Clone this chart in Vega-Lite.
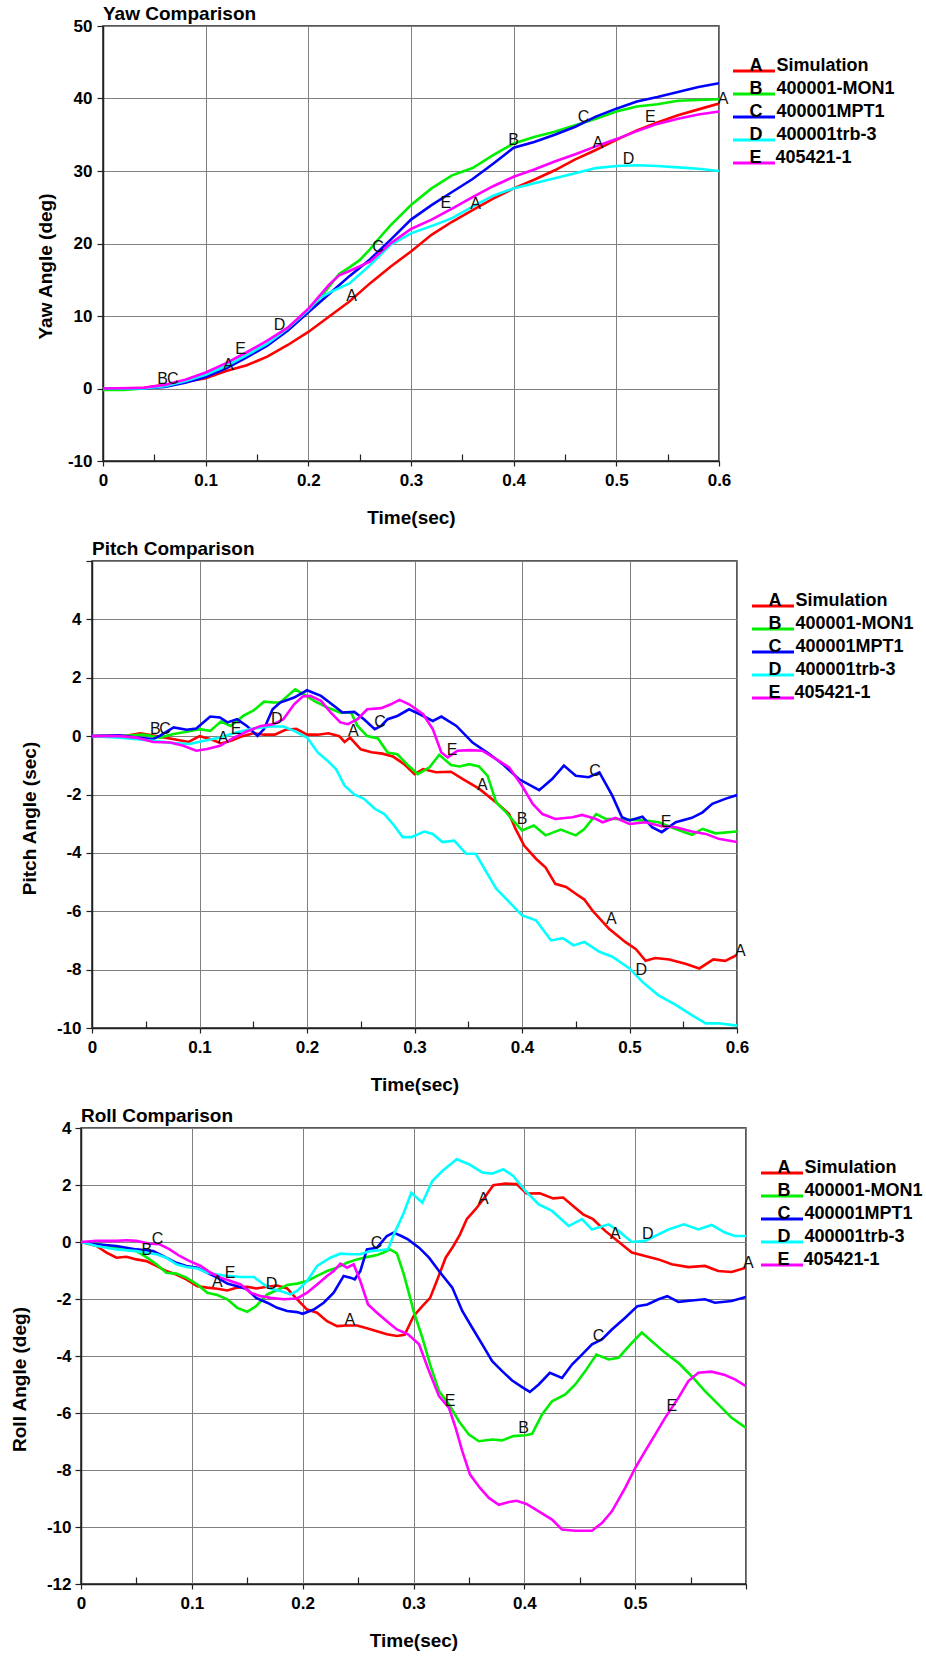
{
  "$schema": "https://vega.github.io/schema/vega-lite/v6.json",
  "background": "white",
  "padding": {"left": 10, "top": 4, "right": 0, "bottom": 0},
  "config": {
    "font": "Liberation Sans",
    "view": {"stroke": "#222222", "strokeWidth": 1.5},
    "title": {"fontSize": 19, "fontWeight": "bold", "font": "Liberation Sans", "anchor": "start", "frame": "group", "offset": -7, "color": "#000000"},
    "axis": {
      "labelFont": "Liberation Sans", "labelFontSize": 17, "labelFontWeight": "bold", "labelColor": "#000000",
      "titleFont": "Liberation Sans", "titleFontSize": 19, "titleFontWeight": "bold", "titleColor": "#000000",
      "gridColor": "#808080", "gridWidth": 1, "domainColor": "#222222", "domainWidth": 1.5,
      "tickColor": "#222222", "tickWidth": 1.2, "labelOverlap": false, "labelFlush": false, "labelBound": false
    },
    "legend": {
      "orient": "none", "title": null,
      "symbolType": "M-3,0H3", "symbolSize": 196, "symbolStrokeWidth": 3,
      "labelFont": "Liberation Sans", "labelFontSize": 18, "labelFontWeight": "bold", "labelColor": "#000000",
      "labelOffset": -13.5, "labelBaseline": "alphabetic", "rowPadding": 3, "labelLimit": 300
    },
    "text": {"font": "Liberation Sans", "fontSize": 16, "color": "#111111"}
  },
  "spacing": 11,
  "resolve": {"scale": {"color": "independent"}, "legend": {"color": "independent"}},
  "datasets": {
    "yaw": [
      {"s":"Simulation","t":0,"v":0},{"s":"Simulation","t":0.02,"v":0},{"s":"Simulation","t":0.04,"v":0.1},{"s":"Simulation","t":0.06,"v":0.5},{"s":"Simulation","t":0.08,"v":0.9},{"s":"Simulation","t":0.1,"v":1.4},{"s":"Simulation","t":0.12,"v":2.4},{"s":"Simulation","t":0.14,"v":3.2},{"s":"Simulation","t":0.16,"v":4.4},{"s":"Simulation","t":0.18,"v":6.0},{"s":"Simulation","t":0.2,"v":7.8},{"s":"Simulation","t":0.22,"v":9.9},{"s":"Simulation","t":0.24,"v":12.0},{"s":"Simulation","t":0.26,"v":14.5},{"s":"Simulation","t":0.28,"v":16.8},{"s":"Simulation","t":0.3,"v":18.9},{"s":"Simulation","t":0.32,"v":21.2},{"s":"Simulation","t":0.34,"v":23.0},{"s":"Simulation","t":0.36,"v":24.6},{"s":"Simulation","t":0.38,"v":26.2},{"s":"Simulation","t":0.4,"v":27.6},{"s":"Simulation","t":0.42,"v":28.8},{"s":"Simulation","t":0.44,"v":30.1},{"s":"Simulation","t":0.46,"v":31.6},{"s":"Simulation","t":0.48,"v":32.9},{"s":"Simulation","t":0.5,"v":34.3},{"s":"Simulation","t":0.52,"v":35.6},{"s":"Simulation","t":0.54,"v":36.7},{"s":"Simulation","t":0.56,"v":37.7},{"s":"Simulation","t":0.58,"v":38.5},{"s":"Simulation","t":0.6,"v":39.3},
      {"s":"400001-MON1","t":0,"v":-0.2},{"s":"400001-MON1","t":0.02,"v":-0.2},{"s":"400001-MON1","t":0.04,"v":0},{"s":"400001-MON1","t":0.06,"v":0.4},{"s":"400001-MON1","t":0.08,"v":1.0},{"s":"400001-MON1","t":0.1,"v":1.9},{"s":"400001-MON1","t":0.12,"v":3.0},{"s":"400001-MON1","t":0.14,"v":4.4},{"s":"400001-MON1","t":0.16,"v":6.0},{"s":"400001-MON1","t":0.18,"v":8.0},{"s":"400001-MON1","t":0.2,"v":10.6},{"s":"400001-MON1","t":0.21,"v":12.3},{"s":"400001-MON1","t":0.22,"v":14.0},{"s":"400001-MON1","t":0.23,"v":15.8},{"s":"400001-MON1","t":0.24,"v":16.7},{"s":"400001-MON1","t":0.25,"v":17.7},{"s":"400001-MON1","t":0.26,"v":19.2},{"s":"400001-MON1","t":0.27,"v":20.9},{"s":"400001-MON1","t":0.28,"v":22.5},{"s":"400001-MON1","t":0.3,"v":25.3},{"s":"400001-MON1","t":0.32,"v":27.6},{"s":"400001-MON1","t":0.34,"v":29.4},{"s":"400001-MON1","t":0.36,"v":30.4},{"s":"400001-MON1","t":0.38,"v":32.2},{"s":"400001-MON1","t":0.4,"v":33.8},{"s":"400001-MON1","t":0.42,"v":34.7},{"s":"400001-MON1","t":0.44,"v":35.4},{"s":"400001-MON1","t":0.46,"v":36.3},{"s":"400001-MON1","t":0.48,"v":37.2},{"s":"400001-MON1","t":0.5,"v":38.2},{"s":"400001-MON1","t":0.52,"v":38.9},{"s":"400001-MON1","t":0.54,"v":39.2},{"s":"400001-MON1","t":0.56,"v":39.7},{"s":"400001-MON1","t":0.58,"v":39.8},{"s":"400001-MON1","t":0.6,"v":39.9},
      {"s":"400001MPT1","t":0,"v":0},{"s":"400001MPT1","t":0.04,"v":0},{"s":"400001MPT1","t":0.06,"v":0.2},{"s":"400001MPT1","t":0.08,"v":0.8},{"s":"400001MPT1","t":0.1,"v":1.6},{"s":"400001MPT1","t":0.12,"v":2.8},{"s":"400001MPT1","t":0.14,"v":4.3},{"s":"400001MPT1","t":0.16,"v":5.9},{"s":"400001MPT1","t":0.18,"v":8.0},{"s":"400001MPT1","t":0.2,"v":10.5},{"s":"400001MPT1","t":0.22,"v":13.0},{"s":"400001MPT1","t":0.24,"v":15.5},{"s":"400001MPT1","t":0.26,"v":17.8},{"s":"400001MPT1","t":0.28,"v":20.5},{"s":"400001MPT1","t":0.3,"v":23.3},{"s":"400001MPT1","t":0.32,"v":25.3},{"s":"400001MPT1","t":0.34,"v":27.1},{"s":"400001MPT1","t":0.36,"v":28.9},{"s":"400001MPT1","t":0.38,"v":31.0},{"s":"400001MPT1","t":0.4,"v":33.2},{"s":"400001MPT1","t":0.42,"v":34.0},{"s":"400001MPT1","t":0.44,"v":35.0},{"s":"400001MPT1","t":0.46,"v":36.1},{"s":"400001MPT1","t":0.48,"v":37.5},{"s":"400001MPT1","t":0.5,"v":38.6},{"s":"400001MPT1","t":0.52,"v":39.6},{"s":"400001MPT1","t":0.54,"v":40.2},{"s":"400001MPT1","t":0.56,"v":40.9},{"s":"400001MPT1","t":0.58,"v":41.6},{"s":"400001MPT1","t":0.6,"v":42.1},
      {"s":"400001trb-3","t":0,"v":0},{"s":"400001trb-3","t":0.04,"v":0},{"s":"400001trb-3","t":0.06,"v":0.3},{"s":"400001trb-3","t":0.08,"v":1.0},{"s":"400001trb-3","t":0.1,"v":1.9},{"s":"400001trb-3","t":0.12,"v":3.1},{"s":"400001trb-3","t":0.14,"v":4.6},{"s":"400001trb-3","t":0.16,"v":6.2},{"s":"400001trb-3","t":0.18,"v":8.3},{"s":"400001trb-3","t":0.2,"v":10.8},{"s":"400001trb-3","t":0.21,"v":12.4},{"s":"400001trb-3","t":0.22,"v":13.2},{"s":"400001trb-3","t":0.24,"v":14.5},{"s":"400001trb-3","t":0.26,"v":17.0},{"s":"400001trb-3","t":0.28,"v":19.8},{"s":"400001trb-3","t":0.3,"v":21.4},{"s":"400001trb-3","t":0.32,"v":22.4},{"s":"400001trb-3","t":0.34,"v":23.5},{"s":"400001trb-3","t":0.36,"v":25.1},{"s":"400001trb-3","t":0.38,"v":26.6},{"s":"400001trb-3","t":0.4,"v":27.6},{"s":"400001trb-3","t":0.42,"v":28.3},{"s":"400001trb-3","t":0.44,"v":29.0},{"s":"400001trb-3","t":0.46,"v":29.7},{"s":"400001trb-3","t":0.48,"v":30.4},{"s":"400001trb-3","t":0.5,"v":30.7},{"s":"400001trb-3","t":0.52,"v":30.8},{"s":"400001trb-3","t":0.54,"v":30.7},{"s":"400001trb-3","t":0.56,"v":30.5},{"s":"400001trb-3","t":0.58,"v":30.3},{"s":"400001trb-3","t":0.6,"v":30.0},
      {"s":"405421-1","t":0,"v":0},{"s":"405421-1","t":0.04,"v":0.1},{"s":"405421-1","t":0.06,"v":0.5},{"s":"405421-1","t":0.08,"v":1.2},{"s":"405421-1","t":0.1,"v":2.2},{"s":"405421-1","t":0.12,"v":3.5},{"s":"405421-1","t":0.14,"v":5.0},{"s":"405421-1","t":0.16,"v":6.6},{"s":"405421-1","t":0.18,"v":8.4},{"s":"405421-1","t":0.2,"v":11.0},{"s":"405421-1","t":0.22,"v":14.3},{"s":"405421-1","t":0.23,"v":15.6},{"s":"405421-1","t":0.24,"v":16.2},{"s":"405421-1","t":0.26,"v":17.5},{"s":"405421-1","t":0.28,"v":20.0},{"s":"405421-1","t":0.3,"v":22.0},{"s":"405421-1","t":0.32,"v":23.3},{"s":"405421-1","t":0.34,"v":24.8},{"s":"405421-1","t":0.36,"v":26.4},{"s":"405421-1","t":0.38,"v":27.9},{"s":"405421-1","t":0.4,"v":29.2},{"s":"405421-1","t":0.42,"v":30.2},{"s":"405421-1","t":0.44,"v":31.3},{"s":"405421-1","t":0.46,"v":32.3},{"s":"405421-1","t":0.48,"v":33.4},{"s":"405421-1","t":0.5,"v":34.4},{"s":"405421-1","t":0.52,"v":35.5},{"s":"405421-1","t":0.54,"v":36.5},{"s":"405421-1","t":0.56,"v":37.2},{"s":"405421-1","t":0.58,"v":37.8},{"s":"405421-1","t":0.6,"v":38.2}
    ],
    "yawLab": [
      {"k":"B","t":0.058,"v":1.3},{"k":"C","t":0.068,"v":1.3},{"k":"A","t":0.122,"v":3.2},{"k":"E","t":0.134,"v":5.5},{"k":"D","t":0.172,"v":8.7},{"k":"A","t":0.242,"v":12.7},{"k":"C","t":0.268,"v":19.5},{"k":"E","t":0.334,"v":25.6},{"k":"A","t":0.363,"v":25.5},{"k":"B","t":0.4,"v":34.3},{"k":"C","t":0.468,"v":37.5},{"k":"A","t":0.482,"v":33.8},{"k":"D","t":0.512,"v":31.6},{"k":"E","t":0.533,"v":37.5},{"k":"A","t":0.604,"v":39.9}
    ],
    "pitch": [
      {"s":"Simulation","t":0,"v":0},{"s":"Simulation","t":0.03,"v":0},{"s":"Simulation","t":0.045,"v":0.1},{"s":"Simulation","t":0.06,"v":0},{"s":"Simulation","t":0.075,"v":-0.1},{"s":"Simulation","t":0.09,"v":-0.2},{"s":"Simulation","t":0.1,"v":0},{"s":"Simulation","t":0.11,"v":-0.1},{"s":"Simulation","t":0.12,"v":-0.25},{"s":"Simulation","t":0.13,"v":-0.15},{"s":"Simulation","t":0.14,"v":0},{"s":"Simulation","t":0.15,"v":0.1},{"s":"Simulation","t":0.16,"v":0.05},{"s":"Simulation","t":0.17,"v":0.05},{"s":"Simulation","t":0.18,"v":0.22},{"s":"Simulation","t":0.19,"v":0.25},{"s":"Simulation","t":0.2,"v":0.05},{"s":"Simulation","t":0.21,"v":0.05},{"s":"Simulation","t":0.22,"v":0.1},{"s":"Simulation","t":0.23,"v":0},{"s":"Simulation","t":0.235,"v":-0.2},{"s":"Simulation","t":0.24,"v":-0.05},{"s":"Simulation","t":0.25,"v":-0.45},{"s":"Simulation","t":0.26,"v":-0.55},{"s":"Simulation","t":0.27,"v":-0.6},{"s":"Simulation","t":0.28,"v":-0.7},{"s":"Simulation","t":0.29,"v":-0.95},{"s":"Simulation","t":0.3,"v":-1.3},{"s":"Simulation","t":0.308,"v":-1.13},{"s":"Simulation","t":0.32,"v":-1.24},{"s":"Simulation","t":0.334,"v":-1.22},{"s":"Simulation","t":0.345,"v":-1.47},{"s":"Simulation","t":0.36,"v":-1.8},{"s":"Simulation","t":0.376,"v":-2.27},{"s":"Simulation","t":0.388,"v":-2.67},{"s":"Simulation","t":0.394,"v":-3.18},{"s":"Simulation","t":0.402,"v":-3.75},{"s":"Simulation","t":0.413,"v":-4.2},{"s":"Simulation","t":0.422,"v":-4.5},{"s":"Simulation","t":0.431,"v":-5.06},{"s":"Simulation","t":0.441,"v":-5.17},{"s":"Simulation","t":0.45,"v":-5.4},{"s":"Simulation","t":0.458,"v":-5.6},{"s":"Simulation","t":0.466,"v":-6.0},{"s":"Simulation","t":0.481,"v":-6.6},{"s":"Simulation","t":0.496,"v":-7.05},{"s":"Simulation","t":0.506,"v":-7.3},{"s":"Simulation","t":0.515,"v":-7.7},{"s":"Simulation","t":0.524,"v":-7.6},{"s":"Simulation","t":0.537,"v":-7.65},{"s":"Simulation","t":0.552,"v":-7.8},{"s":"Simulation","t":0.565,"v":-7.96},{"s":"Simulation","t":0.578,"v":-7.65},{"s":"Simulation","t":0.589,"v":-7.7},{"s":"Simulation","t":0.6,"v":-7.5},
      {"s":"400001-MON1","t":0,"v":0},{"s":"400001-MON1","t":0.026,"v":0},{"s":"400001-MON1","t":0.048,"v":0.05},{"s":"400001-MON1","t":0.063,"v":-0.05},{"s":"400001-MON1","t":0.076,"v":0.07},{"s":"400001-MON1","t":0.088,"v":0.15},{"s":"400001-MON1","t":0.1,"v":0.24},{"s":"400001-MON1","t":0.11,"v":0.18},{"s":"400001-MON1","t":0.12,"v":0.5},{"s":"400001-MON1","t":0.129,"v":0.35},{"s":"400001-MON1","t":0.141,"v":0.7},{"s":"400001-MON1","t":0.15,"v":0.87},{"s":"400001-MON1","t":0.16,"v":1.18},{"s":"400001-MON1","t":0.169,"v":1.15},{"s":"400001-MON1","t":0.175,"v":1.15},{"s":"400001-MON1","t":0.182,"v":1.38},{"s":"400001-MON1","t":0.189,"v":1.6},{"s":"400001-MON1","t":0.197,"v":1.43},{"s":"400001-MON1","t":0.207,"v":1.2},{"s":"400001-MON1","t":0.219,"v":0.98},{"s":"400001-MON1","t":0.231,"v":0.8},{"s":"400001-MON1","t":0.241,"v":0.8},{"s":"400001-MON1","t":0.247,"v":0.35},{"s":"400001-MON1","t":0.256,"v":0},{"s":"400001-MON1","t":0.266,"v":-0.08},{"s":"400001-MON1","t":0.275,"v":-0.56},{"s":"400001-MON1","t":0.284,"v":-0.62},{"s":"400001-MON1","t":0.294,"v":-1.0},{"s":"400001-MON1","t":0.303,"v":-1.3},{"s":"400001-MON1","t":0.314,"v":-1.07},{"s":"400001-MON1","t":0.323,"v":-0.64},{"s":"400001-MON1","t":0.334,"v":-0.99},{"s":"400001-MON1","t":0.342,"v":-1.04},{"s":"400001-MON1","t":0.351,"v":-0.96},{"s":"400001-MON1","t":0.36,"v":-1.04},{"s":"400001-MON1","t":0.368,"v":-1.36},{"s":"400001-MON1","t":0.376,"v":-2.27},{"s":"400001-MON1","t":0.385,"v":-2.6},{"s":"400001-MON1","t":0.393,"v":-2.95},{"s":"400001-MON1","t":0.4,"v":-3.23},{"s":"400001-MON1","t":0.411,"v":-3.06},{"s":"400001-MON1","t":0.422,"v":-3.4},{"s":"400001-MON1","t":0.436,"v":-3.2},{"s":"400001-MON1","t":0.45,"v":-3.4},{"s":"400001-MON1","t":0.458,"v":-3.18},{"s":"400001-MON1","t":0.469,"v":-2.67},{"s":"400001-MON1","t":0.478,"v":-2.84},{"s":"400001-MON1","t":0.49,"v":-2.84},{"s":"400001-MON1","t":0.503,"v":-2.87},{"s":"400001-MON1","t":0.517,"v":-2.9},{"s":"400001-MON1","t":0.527,"v":-2.95},{"s":"400001-MON1","t":0.543,"v":-3.18},{"s":"400001-MON1","t":0.558,"v":-3.38},{"s":"400001-MON1","t":0.568,"v":-3.18},{"s":"400001-MON1","t":0.58,"v":-3.33},{"s":"400001-MON1","t":0.6,"v":-3.27},
      {"s":"400001MPT1","t":0,"v":0},{"s":"400001MPT1","t":0.026,"v":0.03},{"s":"400001MPT1","t":0.041,"v":-0.05},{"s":"400001MPT1","t":0.057,"v":-0.1},{"s":"400001MPT1","t":0.063,"v":0.01},{"s":"400001MPT1","t":0.076,"v":0.3},{"s":"400001MPT1","t":0.088,"v":0.22},{"s":"400001MPT1","t":0.097,"v":0.26},{"s":"400001MPT1","t":0.11,"v":0.67},{"s":"400001MPT1","t":0.119,"v":0.64},{"s":"400001MPT1","t":0.126,"v":0.47},{"s":"400001MPT1","t":0.135,"v":0.58},{"s":"400001MPT1","t":0.144,"v":0.35},{"s":"400001MPT1","t":0.154,"v":0.01},{"s":"400001MPT1","t":0.16,"v":0.24},{"s":"400001MPT1","t":0.168,"v":0.92},{"s":"400001MPT1","t":0.175,"v":1.15},{"s":"400001MPT1","t":0.188,"v":1.32},{"s":"400001MPT1","t":0.2,"v":1.57},{"s":"400001MPT1","t":0.213,"v":1.38},{"s":"400001MPT1","t":0.225,"v":1.04},{"s":"400001MPT1","t":0.233,"v":0.81},{"s":"400001MPT1","t":0.244,"v":0.83},{"s":"400001MPT1","t":0.253,"v":0.58},{"s":"400001MPT1","t":0.263,"v":0.24},{"s":"400001MPT1","t":0.269,"v":0.35},{"s":"400001MPT1","t":0.275,"v":0.58},{"s":"400001MPT1","t":0.284,"v":0.69},{"s":"400001MPT1","t":0.295,"v":0.92},{"s":"400001MPT1","t":0.305,"v":0.75},{"s":"400001MPT1","t":0.317,"v":0.52},{"s":"400001MPT1","t":0.325,"v":0.67},{"s":"400001MPT1","t":0.339,"v":0.35},{"s":"400001MPT1","t":0.354,"v":-0.22},{"s":"400001MPT1","t":0.37,"v":-0.62},{"s":"400001MPT1","t":0.382,"v":-0.96},{"s":"400001MPT1","t":0.397,"v":-1.47},{"s":"400001MPT1","t":0.416,"v":-1.85},{"s":"400001MPT1","t":0.428,"v":-1.47},{"s":"400001MPT1","t":0.439,"v":-1.01},{"s":"400001MPT1","t":0.45,"v":-1.36},{"s":"400001MPT1","t":0.462,"v":-1.41},{"s":"400001MPT1","t":0.472,"v":-1.24},{"s":"400001MPT1","t":0.484,"v":-2.04},{"s":"400001MPT1","t":0.493,"v":-2.78},{"s":"400001MPT1","t":0.5,"v":-2.89},{"s":"400001MPT1","t":0.512,"v":-2.76},{"s":"400001MPT1","t":0.521,"v":-3.12},{"s":"400001MPT1","t":0.53,"v":-3.29},{"s":"400001MPT1","t":0.543,"v":-2.95},{"s":"400001MPT1","t":0.558,"v":-2.8},{"s":"400001MPT1","t":0.568,"v":-2.61},{"s":"400001MPT1","t":0.577,"v":-2.32},{"s":"400001MPT1","t":0.589,"v":-2.15},{"s":"400001MPT1","t":0.6,"v":-2.02},
      {"s":"400001trb-3","t":0,"v":0},{"s":"400001trb-3","t":0.026,"v":-0.05},{"s":"400001trb-3","t":0.057,"v":-0.16},{"s":"400001trb-3","t":0.076,"v":-0.24},{"s":"400001trb-3","t":0.091,"v":-0.27},{"s":"400001trb-3","t":0.1,"v":-0.19},{"s":"400001trb-3","t":0.119,"v":-0.05},{"s":"400001trb-3","t":0.135,"v":0.13},{"s":"400001trb-3","t":0.15,"v":0.26},{"s":"400001trb-3","t":0.166,"v":0.33},{"s":"400001trb-3","t":0.178,"v":0.33},{"s":"400001trb-3","t":0.188,"v":0.18},{"s":"400001trb-3","t":0.2,"v":-0.05},{"s":"400001trb-3","t":0.21,"v":-0.56},{"s":"400001trb-3","t":0.219,"v":-0.84},{"s":"400001trb-3","t":0.227,"v":-1.13},{"s":"400001trb-3","t":0.235,"v":-1.7},{"s":"400001trb-3","t":0.244,"v":-2.0},{"s":"400001trb-3","t":0.253,"v":-2.15},{"s":"400001trb-3","t":0.263,"v":-2.49},{"s":"400001trb-3","t":0.272,"v":-2.67},{"s":"400001trb-3","t":0.281,"v":-3.06},{"s":"400001trb-3","t":0.289,"v":-3.46},{"s":"400001trb-3","t":0.297,"v":-3.46},{"s":"400001trb-3","t":0.309,"v":-3.27},{"s":"400001trb-3","t":0.317,"v":-3.35},{"s":"400001trb-3","t":0.326,"v":-3.63},{"s":"400001trb-3","t":0.337,"v":-3.58},{"s":"400001trb-3","t":0.348,"v":-4.03},{"s":"400001trb-3","t":0.357,"v":-4.03},{"s":"400001trb-3","t":0.365,"v":-4.54},{"s":"400001trb-3","t":0.376,"v":-5.23},{"s":"400001trb-3","t":0.388,"v":-5.68},{"s":"400001trb-3","t":0.4,"v":-6.14},{"s":"400001trb-3","t":0.413,"v":-6.31},{"s":"400001trb-3","t":0.427,"v":-7.0},{"s":"400001trb-3","t":0.438,"v":-6.92},{"s":"400001trb-3","t":0.448,"v":-7.17},{"s":"400001trb-3","t":0.458,"v":-7.05},{"s":"400001trb-3","t":0.472,"v":-7.39},{"s":"400001trb-3","t":0.484,"v":-7.56},{"s":"400001trb-3","t":0.5,"v":-7.96},{"s":"400001trb-3","t":0.512,"v":-8.42},{"s":"400001trb-3","t":0.527,"v":-8.88},{"s":"400001trb-3","t":0.543,"v":-9.21},{"s":"400001trb-3","t":0.558,"v":-9.56},{"s":"400001trb-3","t":0.571,"v":-9.84},{"s":"400001trb-3","t":0.583,"v":-9.84},{"s":"400001trb-3","t":0.6,"v":-9.92},
      {"s":"405421-1","t":0,"v":0},{"s":"405421-1","t":0.026,"v":0},{"s":"405421-1","t":0.041,"v":-0.05},{"s":"405421-1","t":0.057,"v":-0.2},{"s":"405421-1","t":0.073,"v":-0.22},{"s":"405421-1","t":0.085,"v":-0.33},{"s":"405421-1","t":0.097,"v":-0.5},{"s":"405421-1","t":0.107,"v":-0.44},{"s":"405421-1","t":0.119,"v":-0.33},{"s":"405421-1","t":0.132,"v":-0.05},{"s":"405421-1","t":0.144,"v":0.16},{"s":"405421-1","t":0.157,"v":0.35},{"s":"405421-1","t":0.169,"v":0.41},{"s":"405421-1","t":0.178,"v":0.58},{"s":"405421-1","t":0.188,"v":1.09},{"s":"405421-1","t":0.196,"v":1.36},{"s":"405421-1","t":0.203,"v":1.38},{"s":"405421-1","t":0.213,"v":1.21},{"s":"405421-1","t":0.222,"v":0.81},{"s":"405421-1","t":0.231,"v":0.47},{"s":"405421-1","t":0.238,"v":0.41},{"s":"405421-1","t":0.247,"v":0.58},{"s":"405421-1","t":0.256,"v":0.92},{"s":"405421-1","t":0.269,"v":0.96},{"s":"405421-1","t":0.278,"v":1.09},{"s":"405421-1","t":0.286,"v":1.24},{"s":"405421-1","t":0.295,"v":1.09},{"s":"405421-1","t":0.308,"v":0.75},{"s":"405421-1","t":0.317,"v":0.24},{"s":"405421-1","t":0.325,"v":-0.56},{"s":"405421-1","t":0.331,"v":-0.73},{"s":"405421-1","t":0.34,"v":-0.5},{"s":"405421-1","t":0.351,"v":-0.48},{"s":"405421-1","t":0.363,"v":-0.5},{"s":"405421-1","t":0.376,"v":-0.79},{"s":"405421-1","t":0.388,"v":-1.07},{"s":"405421-1","t":0.4,"v":-1.7},{"s":"405421-1","t":0.41,"v":-2.32},{"s":"405421-1","t":0.419,"v":-2.67},{"s":"405421-1","t":0.431,"v":-2.84},{"s":"405421-1","t":0.447,"v":-2.78},{"s":"405421-1","t":0.456,"v":-2.7},{"s":"405421-1","t":0.469,"v":-2.84},{"s":"405421-1","t":0.475,"v":-2.95},{"s":"405421-1","t":0.487,"v":-2.8},{"s":"405421-1","t":0.5,"v":-3.01},{"s":"405421-1","t":0.515,"v":-2.95},{"s":"405421-1","t":0.53,"v":-3.09},{"s":"405421-1","t":0.543,"v":-3.12},{"s":"405421-1","t":0.558,"v":-3.27},{"s":"405421-1","t":0.571,"v":-3.35},{"s":"405421-1","t":0.583,"v":-3.52},{"s":"405421-1","t":0.6,"v":-3.63}
    ],
    "pitchLab": [
      {"k":"B","t":0.059,"v":0.24},{"k":"C","t":0.068,"v":0.24},{"k":"A","t":0.122,"v":-0.08},{"k":"E","t":0.134,"v":0.24},{"k":"D","t":0.172,"v":0.58},{"k":"A","t":0.243,"v":0.18},{"k":"C","t":0.268,"v":0.5},{"k":"E","t":0.335,"v":-0.48},{"k":"A","t":0.363,"v":-1.67},{"k":"B","t":0.4,"v":-2.84},{"k":"C","t":0.468,"v":-1.18},{"k":"E","t":0.534,"v":-2.95},{"k":"A","t":0.483,"v":-6.25},{"k":"D","t":0.511,"v":-8.02},{"k":"A","t":0.603,"v":-7.36}
    ],
    "roll": [
      {"s":"Simulation","t":0,"v":0},{"s":"Simulation","t":0.014,"v":-0.14},{"s":"Simulation","t":0.023,"v":-0.37},{"s":"Simulation","t":0.032,"v":-0.55},{"s":"Simulation","t":0.041,"v":-0.52},{"s":"Simulation","t":0.05,"v":-0.61},{"s":"Simulation","t":0.059,"v":-0.67},{"s":"Simulation","t":0.068,"v":-0.84},{"s":"Simulation","t":0.077,"v":-1.02},{"s":"Simulation","t":0.086,"v":-1.14},{"s":"Simulation","t":0.095,"v":-1.31},{"s":"Simulation","t":0.105,"v":-1.55},{"s":"Simulation","t":0.114,"v":-1.6},{"s":"Simulation","t":0.123,"v":-1.64},{"s":"Simulation","t":0.132,"v":-1.7},{"s":"Simulation","t":0.141,"v":-1.6},{"s":"Simulation","t":0.15,"v":-1.57},{"s":"Simulation","t":0.158,"v":-1.63},{"s":"Simulation","t":0.168,"v":-1.57},{"s":"Simulation","t":0.177,"v":-1.53},{"s":"Simulation","t":0.186,"v":-1.63},{"s":"Simulation","t":0.195,"v":-2.01},{"s":"Simulation","t":0.204,"v":-2.37},{"s":"Simulation","t":0.213,"v":-2.48},{"s":"Simulation","t":0.222,"v":-2.78},{"s":"Simulation","t":0.231,"v":-2.95},{"s":"Simulation","t":0.24,"v":-2.93},{"s":"Simulation","t":0.249,"v":-2.93},{"s":"Simulation","t":0.258,"v":-3.03},{"s":"Simulation","t":0.267,"v":-3.13},{"s":"Simulation","t":0.276,"v":-3.24},{"s":"Simulation","t":0.285,"v":-3.3},{"s":"Simulation","t":0.292,"v":-3.26},{"s":"Simulation","t":0.3,"v":-2.6},{"s":"Simulation","t":0.308,"v":-2.25},{"s":"Simulation","t":0.315,"v":-1.96},{"s":"Simulation","t":0.321,"v":-1.37},{"s":"Simulation","t":0.329,"v":-0.55},{"s":"Simulation","t":0.336,"v":-0.14},{"s":"Simulation","t":0.342,"v":0.27},{"s":"Simulation","t":0.348,"v":0.8},{"s":"Simulation","t":0.356,"v":1.15},{"s":"Simulation","t":0.363,"v":1.5},{"s":"Simulation","t":0.372,"v":1.99},{"s":"Simulation","t":0.383,"v":2.05},{"s":"Simulation","t":0.393,"v":2.03},{"s":"Simulation","t":0.402,"v":1.7},{"s":"Simulation","t":0.414,"v":1.71},{"s":"Simulation","t":0.426,"v":1.53},{"s":"Simulation","t":0.435,"v":1.56},{"s":"Simulation","t":0.444,"v":1.26},{"s":"Simulation","t":0.453,"v":0.97},{"s":"Simulation","t":0.462,"v":0.8},{"s":"Simulation","t":0.473,"v":0.39},{"s":"Simulation","t":0.485,"v":0.01},{"s":"Simulation","t":0.497,"v":-0.37},{"s":"Simulation","t":0.509,"v":-0.49},{"s":"Simulation","t":0.521,"v":-0.61},{"s":"Simulation","t":0.533,"v":-0.78},{"s":"Simulation","t":0.548,"v":-0.88},{"s":"Simulation","t":0.563,"v":-0.84},{"s":"Simulation","t":0.575,"v":-1.02},{"s":"Simulation","t":0.587,"v":-1.05},{"s":"Simulation","t":0.6,"v":-0.9},
      {"s":"400001-MON1","t":0,"v":0},{"s":"400001-MON1","t":0.014,"v":-0.06},{"s":"400001-MON1","t":0.032,"v":-0.2},{"s":"400001-MON1","t":0.05,"v":-0.32},{"s":"400001-MON1","t":0.059,"v":-0.53},{"s":"400001-MON1","t":0.068,"v":-0.78},{"s":"400001-MON1","t":0.077,"v":-1.08},{"s":"400001-MON1","t":0.086,"v":-1.11},{"s":"400001-MON1","t":0.095,"v":-1.25},{"s":"400001-MON1","t":0.105,"v":-1.49},{"s":"400001-MON1","t":0.114,"v":-1.78},{"s":"400001-MON1","t":0.123,"v":-1.86},{"s":"400001-MON1","t":0.132,"v":-2.01},{"s":"400001-MON1","t":0.141,"v":-2.31},{"s":"400001-MON1","t":0.15,"v":-2.45},{"s":"400001-MON1","t":0.158,"v":-2.25},{"s":"400001-MON1","t":0.168,"v":-1.84},{"s":"400001-MON1","t":0.177,"v":-1.69},{"s":"400001-MON1","t":0.186,"v":-1.51},{"s":"400001-MON1","t":0.195,"v":-1.46},{"s":"400001-MON1","t":0.204,"v":-1.37},{"s":"400001-MON1","t":0.213,"v":-1.19},{"s":"400001-MON1","t":0.222,"v":-1.02},{"s":"400001-MON1","t":0.231,"v":-0.9},{"s":"400001-MON1","t":0.24,"v":-0.73},{"s":"400001-MON1","t":0.249,"v":-0.61},{"s":"400001-MON1","t":0.258,"v":-0.53},{"s":"400001-MON1","t":0.267,"v":-0.46},{"s":"400001-MON1","t":0.273,"v":-0.37},{"s":"400001-MON1","t":0.279,"v":-0.26},{"s":"400001-MON1","t":0.285,"v":-0.4},{"s":"400001-MON1","t":0.291,"v":-1.1},{"s":"400001-MON1","t":0.297,"v":-1.96},{"s":"400001-MON1","t":0.3,"v":-2.42},{"s":"400001-MON1","t":0.308,"v":-3.36},{"s":"400001-MON1","t":0.315,"v":-4.3},{"s":"400001-MON1","t":0.323,"v":-5.23},{"s":"400001-MON1","t":0.332,"v":-5.7},{"s":"400001-MON1","t":0.341,"v":-6.29},{"s":"400001-MON1","t":0.35,"v":-6.76},{"s":"400001-MON1","t":0.359,"v":-6.99},{"s":"400001-MON1","t":0.371,"v":-6.93},{"s":"400001-MON1","t":0.38,"v":-6.96},{"s":"400001-MON1","t":0.39,"v":-6.81},{"s":"400001-MON1","t":0.401,"v":-6.78},{"s":"400001-MON1","t":0.407,"v":-6.73},{"s":"400001-MON1","t":0.416,"v":-6.05},{"s":"400001-MON1","t":0.425,"v":-5.59},{"s":"400001-MON1","t":0.437,"v":-5.35},{"s":"400001-MON1","t":0.446,"v":-5.0},{"s":"400001-MON1","t":0.455,"v":-4.53},{"s":"400001-MON1","t":0.465,"v":-3.95},{"s":"400001-MON1","t":0.476,"v":-4.12},{"s":"400001-MON1","t":0.485,"v":-4.06},{"s":"400001-MON1","t":0.497,"v":-3.54},{"s":"400001-MON1","t":0.506,"v":-3.18},{"s":"400001-MON1","t":0.515,"v":-3.48},{"s":"400001-MON1","t":0.527,"v":-3.89},{"s":"400001-MON1","t":0.539,"v":-4.24},{"s":"400001-MON1","t":0.551,"v":-4.71},{"s":"400001-MON1","t":0.563,"v":-5.23},{"s":"400001-MON1","t":0.575,"v":-5.7},{"s":"400001-MON1","t":0.587,"v":-6.17},{"s":"400001-MON1","t":0.6,"v":-6.52},
      {"s":"400001MPT1","t":0,"v":0},{"s":"400001MPT1","t":0.014,"v":-0.08},{"s":"400001MPT1","t":0.032,"v":-0.14},{"s":"400001MPT1","t":0.05,"v":-0.26},{"s":"400001MPT1","t":0.065,"v":-0.32},{"s":"400001MPT1","t":0.077,"v":-0.55},{"s":"400001MPT1","t":0.086,"v":-0.73},{"s":"400001MPT1","t":0.095,"v":-0.84},{"s":"400001MPT1","t":0.105,"v":-0.9},{"s":"400001MPT1","t":0.114,"v":-1.08},{"s":"400001MPT1","t":0.123,"v":-1.25},{"s":"400001MPT1","t":0.132,"v":-1.46},{"s":"400001MPT1","t":0.141,"v":-1.55},{"s":"400001MPT1","t":0.15,"v":-1.66},{"s":"400001MPT1","t":0.158,"v":-1.96},{"s":"400001MPT1","t":0.168,"v":-2.13},{"s":"400001MPT1","t":0.177,"v":-2.31},{"s":"400001MPT1","t":0.186,"v":-2.42},{"s":"400001MPT1","t":0.195,"v":-2.46},{"s":"400001MPT1","t":0.2,"v":-2.52},{"s":"400001MPT1","t":0.21,"v":-2.37},{"s":"400001MPT1","t":0.219,"v":-2.13},{"s":"400001MPT1","t":0.228,"v":-1.78},{"s":"400001MPT1","t":0.237,"v":-1.19},{"s":"400001MPT1","t":0.243,"v":-1.25},{"s":"400001MPT1","t":0.247,"v":-1.31},{"s":"400001MPT1","t":0.252,"v":-1.02},{"s":"400001MPT1","t":0.258,"v":-0.26},{"s":"400001MPT1","t":0.267,"v":-0.2},{"s":"400001MPT1","t":0.276,"v":0.21},{"s":"400001MPT1","t":0.282,"v":0.33},{"s":"400001MPT1","t":0.289,"v":0.21},{"s":"400001MPT1","t":0.295,"v":0.09},{"s":"400001MPT1","t":0.305,"v":-0.2},{"s":"400001MPT1","t":0.314,"v":-0.55},{"s":"400001MPT1","t":0.323,"v":-1.02},{"s":"400001MPT1","t":0.335,"v":-1.6},{"s":"400001MPT1","t":0.344,"v":-2.42},{"s":"400001MPT1","t":0.353,"v":-3.01},{"s":"400001MPT1","t":0.362,"v":-3.59},{"s":"400001MPT1","t":0.371,"v":-4.18},{"s":"400001MPT1","t":0.38,"v":-4.53},{"s":"400001MPT1","t":0.389,"v":-4.86},{"s":"400001MPT1","t":0.399,"v":-5.12},{"s":"400001MPT1","t":0.405,"v":-5.26},{"s":"400001MPT1","t":0.413,"v":-5.0},{"s":"400001MPT1","t":0.423,"v":-4.59},{"s":"400001MPT1","t":0.434,"v":-4.77},{"s":"400001MPT1","t":0.443,"v":-4.3},{"s":"400001MPT1","t":0.452,"v":-3.95},{"s":"400001MPT1","t":0.461,"v":-3.59},{"s":"400001MPT1","t":0.47,"v":-3.42},{"s":"400001MPT1","t":0.479,"v":-3.07},{"s":"400001MPT1","t":0.491,"v":-2.66},{"s":"400001MPT1","t":0.502,"v":-2.25},{"s":"400001MPT1","t":0.511,"v":-2.19},{"s":"400001MPT1","t":0.521,"v":-2.01},{"s":"400001MPT1","t":0.529,"v":-1.9},{"s":"400001MPT1","t":0.539,"v":-2.1},{"s":"400001MPT1","t":0.551,"v":-2.05},{"s":"400001MPT1","t":0.563,"v":-2.01},{"s":"400001MPT1","t":0.572,"v":-2.13},{"s":"400001MPT1","t":0.587,"v":-2.07},{"s":"400001MPT1","t":0.6,"v":-1.93},
      {"s":"400001trb-3","t":0,"v":0},{"s":"400001trb-3","t":0.014,"v":-0.14},{"s":"400001trb-3","t":0.032,"v":-0.26},{"s":"400001trb-3","t":0.05,"v":-0.32},{"s":"400001trb-3","t":0.068,"v":-0.43},{"s":"400001trb-3","t":0.077,"v":-0.55},{"s":"400001trb-3","t":0.086,"v":-0.78},{"s":"400001trb-3","t":0.095,"v":-0.88},{"s":"400001trb-3","t":0.105,"v":-0.93},{"s":"400001trb-3","t":0.114,"v":-1.08},{"s":"400001trb-3","t":0.123,"v":-1.14},{"s":"400001trb-3","t":0.132,"v":-1.19},{"s":"400001trb-3","t":0.144,"v":-1.23},{"s":"400001trb-3","t":0.156,"v":-1.23},{"s":"400001trb-3","t":0.165,"v":-1.49},{"s":"400001trb-3","t":0.171,"v":-1.64},{"s":"400001trb-3","t":0.18,"v":-1.72},{"s":"400001trb-3","t":0.189,"v":-1.84},{"s":"400001trb-3","t":0.195,"v":-1.72},{"s":"400001trb-3","t":0.204,"v":-1.37},{"s":"400001trb-3","t":0.213,"v":-0.84},{"s":"400001trb-3","t":0.225,"v":-0.55},{"s":"400001trb-3","t":0.234,"v":-0.41},{"s":"400001trb-3","t":0.243,"v":-0.43},{"s":"400001trb-3","t":0.252,"v":-0.43},{"s":"400001trb-3","t":0.261,"v":-0.32},{"s":"400001trb-3","t":0.27,"v":-0.29},{"s":"400001trb-3","t":0.277,"v":-0.26},{"s":"400001trb-3","t":0.283,"v":0.33},{"s":"400001trb-3","t":0.291,"v":1.0},{"s":"400001trb-3","t":0.298,"v":1.73},{"s":"400001trb-3","t":0.308,"v":1.38},{"s":"400001trb-3","t":0.317,"v":2.14},{"s":"400001trb-3","t":0.326,"v":2.49},{"s":"400001trb-3","t":0.339,"v":2.9},{"s":"400001trb-3","t":0.35,"v":2.73},{"s":"400001trb-3","t":0.362,"v":2.44},{"s":"400001trb-3","t":0.371,"v":2.4},{"s":"400001trb-3","t":0.381,"v":2.55},{"s":"400001trb-3","t":0.39,"v":2.32},{"s":"400001trb-3","t":0.401,"v":1.79},{"s":"400001trb-3","t":0.413,"v":1.32},{"s":"400001trb-3","t":0.425,"v":1.09},{"s":"400001trb-3","t":0.44,"v":0.56},{"s":"400001trb-3","t":0.452,"v":0.8},{"s":"400001trb-3","t":0.461,"v":0.44},{"s":"400001trb-3","t":0.476,"v":0.62},{"s":"400001trb-3","t":0.485,"v":0.39},{"s":"400001trb-3","t":0.497,"v":0.0},{"s":"400001trb-3","t":0.509,"v":0.04},{"s":"400001trb-3","t":0.521,"v":0.27},{"s":"400001trb-3","t":0.53,"v":0.44},{"s":"400001trb-3","t":0.544,"v":0.62},{"s":"400001trb-3","t":0.557,"v":0.44},{"s":"400001trb-3","t":0.569,"v":0.6},{"s":"400001trb-3","t":0.581,"v":0.33},{"s":"400001trb-3","t":0.59,"v":0.21},{"s":"400001trb-3","t":0.6,"v":0.21},
      {"s":"405421-1","t":0,"v":0},{"s":"405421-1","t":0.014,"v":0.04},{"s":"405421-1","t":0.032,"v":0.04},{"s":"405421-1","t":0.041,"v":0.06},{"s":"405421-1","t":0.05,"v":0.04},{"s":"405421-1","t":0.062,"v":-0.06},{"s":"405421-1","t":0.071,"v":-0.08},{"s":"405421-1","t":0.08,"v":-0.26},{"s":"405421-1","t":0.089,"v":-0.49},{"s":"405421-1","t":0.098,"v":-0.67},{"s":"405421-1","t":0.108,"v":-0.84},{"s":"405421-1","t":0.117,"v":-1.08},{"s":"405421-1","t":0.126,"v":-1.25},{"s":"405421-1","t":0.135,"v":-1.37},{"s":"405421-1","t":0.144,"v":-1.49},{"s":"405421-1","t":0.153,"v":-1.78},{"s":"405421-1","t":0.162,"v":-1.9},{"s":"405421-1","t":0.171,"v":-1.96},{"s":"405421-1","t":0.183,"v":-2.01},{"s":"405421-1","t":0.195,"v":-1.98},{"s":"405421-1","t":0.204,"v":-1.78},{"s":"405421-1","t":0.213,"v":-1.49},{"s":"405421-1","t":0.222,"v":-1.19},{"s":"405421-1","t":0.228,"v":-1.02},{"s":"405421-1","t":0.234,"v":-0.76},{"s":"405421-1","t":0.24,"v":-0.9},{"s":"405421-1","t":0.246,"v":-0.78},{"s":"405421-1","t":0.252,"v":-1.37},{"s":"405421-1","t":0.259,"v":-2.19},{"s":"405421-1","t":0.267,"v":-2.48},{"s":"405421-1","t":0.276,"v":-2.78},{"s":"405421-1","t":0.285,"v":-3.07},{"s":"405421-1","t":0.295,"v":-3.24},{"s":"405421-1","t":0.305,"v":-3.59},{"s":"405421-1","t":0.314,"v":-4.53},{"s":"405421-1","t":0.323,"v":-5.41},{"s":"405421-1","t":0.332,"v":-5.82},{"s":"405421-1","t":0.338,"v":-6.52},{"s":"405421-1","t":0.344,"v":-7.34},{"s":"405421-1","t":0.351,"v":-8.16},{"s":"405421-1","t":0.36,"v":-8.63},{"s":"405421-1","t":0.368,"v":-8.98},{"s":"405421-1","t":0.377,"v":-9.22},{"s":"405421-1","t":0.386,"v":-9.12},{"s":"405421-1","t":0.393,"v":-9.08},{"s":"405421-1","t":0.402,"v":-9.19},{"s":"405421-1","t":0.413,"v":-9.45},{"s":"405421-1","t":0.425,"v":-9.74},{"s":"405421-1","t":0.434,"v":-10.09},{"s":"405421-1","t":0.446,"v":-10.13},{"s":"405421-1","t":0.461,"v":-10.13},{"s":"405421-1","t":0.47,"v":-9.86},{"s":"405421-1","t":0.479,"v":-9.45},{"s":"405421-1","t":0.491,"v":-8.63},{"s":"405421-1","t":0.5,"v":-7.93},{"s":"405421-1","t":0.509,"v":-7.34},{"s":"405421-1","t":0.518,"v":-6.76},{"s":"405421-1","t":0.527,"v":-6.17},{"s":"405421-1","t":0.539,"v":-5.47},{"s":"405421-1","t":0.548,"v":-4.88},{"s":"405421-1","t":0.557,"v":-4.59},{"s":"405421-1","t":0.569,"v":-4.55},{"s":"405421-1","t":0.581,"v":-4.67},{"s":"405421-1","t":0.59,"v":-4.82},{"s":"405421-1","t":0.6,"v":-5.06}
    ],
    "rollLab": [
      {"k":"B","t":0.0595,"v":-0.29},{"k":"C","t":0.069,"v":0.09},{"k":"A","t":0.123,"v":-1.4},{"k":"E","t":0.1345,"v":-1.08},{"k":"D","t":0.172,"v":-1.49},{"k":"A","t":0.2426,"v":-2.72},{"k":"C","t":0.2667,"v":-0.02},{"k":"A","t":0.363,"v":1.5},{"k":"E","t":0.333,"v":-5.59},{"k":"B","t":0.3993,"v":-6.52},{"k":"C","t":0.4669,"v":-3.3},{"k":"A","t":0.482,"v":0.29},{"k":"D","t":0.5114,"v":0.27},{"k":"E","t":0.533,"v":-5.76},{"k":"A","t":0.602,"v":-0.73}
    ]
  },
  "vconcat": [
    {
      "hconcat": [
        {"width": 23, "height": 10, "view": {"stroke": null}, "data": {"values": [{}]}, "mark": {"type": "point", "opacity": 0}, "encoding": {}},
        {
          "width": 616, "height": 435,
          "title": {"text": "Yaw Comparison"},
          "layer": [
            {
              "data": {"name": "yaw"},
              "mark": {"type": "line", "strokeWidth": 2.6, "clip": true},
              "encoding": {
                "x": {"field": "t", "type": "quantitative", "scale": {"domain": [0, 0.6], "nice": false, "zero": false},
                  "axis": {"title": "Time(sec)", "values": [0,0.05,0.1,0.15,0.2,0.25,0.3,0.35,0.4,0.45,0.5,0.55,0.6],
                    "labelExpr": "abs(datum.value*10 - round(datum.value*10)) > 0.01 ? '' : '' + datum.value",
                    "tickSize": {"condition": {"test": "abs(datum.value*10 - round(datum.value*10)) > 0.01", "value": -7}, "value": 5},
                    "gridOpacity": {"condition": {"test": "abs(datum.value*10 - round(datum.value*10)) > 0.01", "value": 0}, "value": 1},
                    "labelPadding": 6, "titlePadding": 20}},
                "y": {"field": "v", "type": "quantitative", "scale": {"domain": [-10, 50], "nice": false, "zero": false},
                  "axis": {"title": "Yaw Angle (deg)", "values": [-10,-5,0,5,10,15,20,25,30,35,40,45,50],
                    "labelExpr": "abs(datum.value/10 - round(datum.value/10)) > 0.01 ? '' : '' + datum.value",
                    "tickSize": {"condition": {"test": "abs(datum.value/10 - round(datum.value/10)) > 0.01", "value": -6}, "value": 6},
                    "gridOpacity": {"condition": {"test": "abs(datum.value/10 - round(datum.value/10)) > 0.01", "value": 0}, "value": 1},
                    "labelPadding": 5, "titlePadding": 12, "titleY": 240}},
                "color": {"field": "s", "type": "nominal",
                  "scale": {"domain": ["Simulation","400001-MON1","400001MPT1","400001trb-3","405421-1"], "range": ["#ff0000","#00ee00","#0000ff","#00ffff","#ff00ff"]},
                  "legend": {"legendX": 642, "legendY": 36,
                    "labelExpr": "['A','B','C','D','E'][indexof(['Simulation','400001-MON1','400001MPT1','400001trb-3','405421-1'], datum.label)] + '\u2002\u2008' + datum.label"}}
              }
            },
            {
              "data": {"name": "yawLab"},
              "mark": {"type": "text"},
              "encoding": {
                "x": {"field": "t", "type": "quantitative"},
                "y": {"field": "v", "type": "quantitative"},
                "text": {"field": "k"}
              }
            }
          ]
        }
      ],
      "spacing": 0, "bounds": "flush",
      "resolve": {"scale": {"color": "independent"}, "legend": {"color": "independent"}}
    },
    {
      "hconcat": [
        {"width": 12, "height": 10, "view": {"stroke": null}, "data": {"values": [{}]}, "mark": {"type": "point", "opacity": 0}, "encoding": {}},
        {
          "width": 645, "height": 467,
          "title": {"text": "Pitch Comparison"},
          "layer": [
            {
              "data": {"name": "pitch"},
              "mark": {"type": "line", "strokeWidth": 2.6, "clip": true},
              "encoding": {
                "x": {"field": "t", "type": "quantitative", "scale": {"domain": [0, 0.6], "nice": false, "zero": false},
                  "axis": {"title": "Time(sec)", "values": [0,0.05,0.1,0.15,0.2,0.25,0.3,0.35,0.4,0.45,0.5,0.55,0.6],
                    "labelExpr": "abs(datum.value*10 - round(datum.value*10)) > 0.01 ? '' : '' + datum.value",
                    "tickSize": {"condition": {"test": "abs(datum.value*10 - round(datum.value*10)) > 0.01", "value": -7}, "value": 5},
                    "gridOpacity": {"condition": {"test": "abs(datum.value*10 - round(datum.value*10)) > 0.01", "value": 0}, "value": 1},
                    "labelPadding": 6, "titlePadding": 20}},
                "y": {"field": "v", "type": "quantitative", "scale": {"domain": [-10, 6], "nice": false, "zero": false},
                  "axis": {"title": "Pitch Angle (sec)", "values": [-10,-9,-8,-7,-6,-5,-4,-3,-2,-1,0,1,2,3,4,5,6],
                    "labelExpr": "(datum.value % 2 != 0 || datum.value > 5) ? '' : '' + datum.value",
                    "tickSize": {"condition": {"test": "datum.value % 2 != 0", "value": -6}, "value": 6},
                    "gridOpacity": {"condition": {"test": "datum.value % 2 != 0", "value": 0}, "value": 1},
                    "labelPadding": 5, "titlePadding": 16.6, "titleY": 257}},
                "color": {"field": "s", "type": "nominal",
                  "scale": {"domain": ["Simulation","400001-MON1","400001MPT1","400001trb-3","405421-1"], "range": ["#ff0000","#00ee00","#0000ff","#00ffff","#ff00ff"]},
                  "legend": {"legendX": 672, "legendY": 36,
                    "labelExpr": "['A','B','C','D','E'][indexof(['Simulation','400001-MON1','400001MPT1','400001trb-3','405421-1'], datum.label)] + '\u2002\u2008' + datum.label"}}
              }
            },
            {
              "data": {"name": "pitchLab"},
              "mark": {"type": "text"},
              "encoding": {
                "x": {"field": "t", "type": "quantitative"},
                "y": {"field": "v", "type": "quantitative"},
                "text": {"field": "k"}
              }
            }
          ]
        }
      ],
      "spacing": 0, "bounds": "flush",
      "resolve": {"scale": {"color": "independent"}, "legend": {"color": "independent"}}
    },
    {
      "hconcat": [
        {"width": 1, "height": 10, "view": {"stroke": null}, "data": {"values": [{}]}, "mark": {"type": "point", "opacity": 0}, "encoding": {}},
        {
          "width": 665, "height": 456,
          "title": {"text": "Roll Comparison"},
          "layer": [
            {
              "data": {"name": "roll"},
              "mark": {"type": "line", "strokeWidth": 2.6, "clip": true},
              "encoding": {
                "x": {"field": "t", "type": "quantitative", "scale": {"domain": [0, 0.6], "nice": false, "zero": false},
                  "axis": {"title": "Time(sec)", "values": [0,0.05,0.1,0.15,0.2,0.25,0.3,0.35,0.4,0.45,0.5,0.55,0.6],
                    "labelExpr": "(abs(datum.value*10 - round(datum.value*10)) > 0.01 || datum.value > 0.59) ? '' : '' + datum.value",
                    "tickSize": {"condition": {"test": "abs(datum.value*10 - round(datum.value*10)) > 0.01", "value": -7}, "value": 5},
                    "gridOpacity": {"condition": {"test": "abs(datum.value*10 - round(datum.value*10)) > 0.01", "value": 0}, "value": 1},
                    "labelPadding": 6, "titlePadding": 20}},
                "y": {"field": "v", "type": "quantitative", "scale": {"domain": [-12, 4], "nice": false, "zero": false},
                  "axis": {"title": "Roll Angle (deg)", "values": [-12,-11,-10,-9,-8,-7,-6,-5,-4,-3,-2,-1,0,1,2,3,4],
                    "labelExpr": "datum.value % 2 != 0 ? '' : '' + datum.value",
                    "tickSize": {"condition": {"test": "datum.value % 2 != 0", "value": -6}, "value": 6},
                    "gridOpacity": {"condition": {"test": "datum.value % 2 != 0", "value": 0}, "value": 1},
                    "labelPadding": 4, "titlePadding": 16.6, "titleY": 251}},
                "color": {"field": "s", "type": "nominal",
                  "scale": {"domain": ["Simulation","400001-MON1","400001MPT1","400001trb-3","405421-1"], "range": ["#ff0000","#00ee00","#0000ff","#00ffff","#ff00ff"]},
                  "legend": {"legendX": 692, "legendY": 36,
                    "labelExpr": "['A','B','C','D','E'][indexof(['Simulation','400001-MON1','400001MPT1','400001trb-3','405421-1'], datum.label)] + '\u2002\u2008' + datum.label"}}
              }
            },
            {
              "data": {"name": "rollLab"},
              "mark": {"type": "text"},
              "encoding": {
                "x": {"field": "t", "type": "quantitative"},
                "y": {"field": "v", "type": "quantitative"},
                "text": {"field": "k"}
              }
            }
          ]
        }
      ],
      "spacing": 0, "bounds": "flush",
      "resolve": {"scale": {"color": "independent"}, "legend": {"color": "independent"}}
    }
  ]
}
